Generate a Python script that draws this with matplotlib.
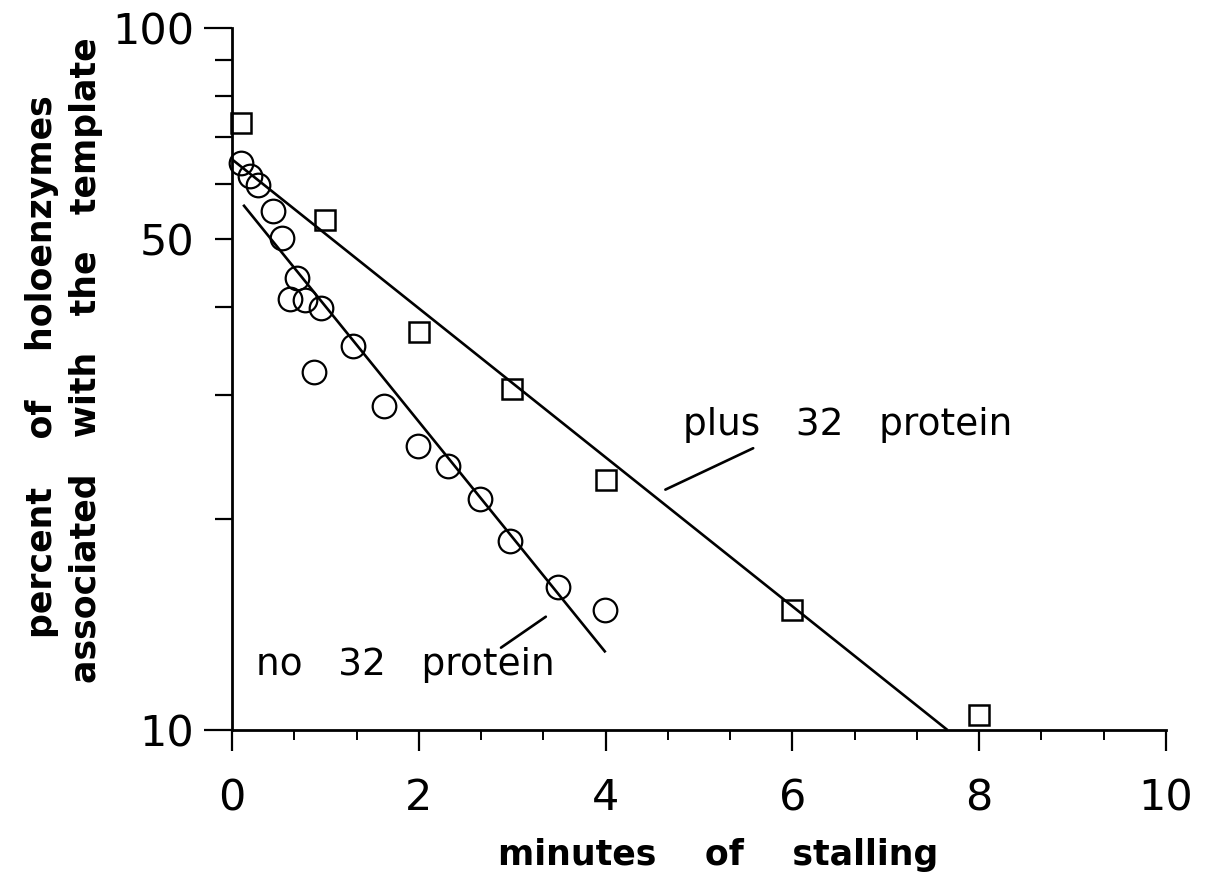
import matplotlib.pyplot as plt
from matplotlib.ticker import FixedLocator, FixedFormatter

# percent of holoenzymes still on the template vs. minutes of stalling
plus_x = [0.1, 1, 2, 3, 4, 6, 8]
plus_y = [73.2, 53.3, 36.9, 30.6, 22.7, 14.8, 10.5]

no_x = [0.10, 0.19, 0.28, 0.44, 0.53, 0.70, 0.62, 0.78, 0.95, 1.30, 0.88,
        1.63, 1.99, 2.31, 2.65, 2.98, 3.49, 3.99]
no_y = [64.2, 61.5, 59.7, 54.9, 50.2, 44.0, 41.1, 41.0, 39.9, 35.2, 32.4,
        28.9, 25.4, 23.8, 21.3, 18.6, 16.0, 14.8]

# hand-fitted lines (end points)
plus_fit_x = [0.0, 7.66]
plus_fit_y = [65.0, 10.0]
no_fit_x = [0.12, 4.0]
no_fit_y = [56.0, 12.9]

fig = plt.figure(figsize=(12.08, 8.76), dpi=100)
ax = fig.add_axes([232 / 1208, 146 / 876, 934 / 1208, 702 / 876])

ax.plot(plus_fit_x, plus_fit_y, color='black', lw=1.9, solid_capstyle='butt')
ax.plot(no_fit_x, no_fit_y, color='black', lw=1.9, solid_capstyle='butt')
ax.plot(plus_x, plus_y, 's', ms=15, mfc='none', mec='black', mew=1.8, clip_on=False)
ax.plot(no_x, no_y, 'o', ms=17, mfc='none', mec='black', mew=1.6, clip_on=False)

ax.set_yscale('log')
ax.set_xlim(0, 10)
ax.set_ylim(10, 100)

for s in ['top', 'right']:
    ax.spines[s].set_visible(False)
for s in ['left', 'bottom']:
    ax.spines[s].set_linewidth(2.0)

ax.xaxis.set_major_locator(FixedLocator([0, 2, 4, 6, 8, 10]))
ax.xaxis.set_minor_locator(FixedLocator([i * 2 / 3 for i in range(16)]))
ax.xaxis.set_major_formatter(FixedFormatter(['0', '2', '4', '6', '8', '10']))

ax.yaxis.set_major_locator(FixedLocator([10, 100]))
ax.yaxis.set_minor_locator(FixedLocator([20, 30, 40, 50, 60, 70, 80, 90]))
ax.yaxis.set_major_formatter(FixedFormatter(['10', '100']))
ax.yaxis.set_minor_formatter(FixedFormatter(['', '', '', '50', '', '', '', '']))

for lab in ax.get_xticklabels() + ax.get_yticklabels(which='both'):
    lab.set_fontfamily('DejaVu Sans')
    lab.set_fontsize(31)

ax.tick_params(axis='x', which='major', direction='out', length=15, width=1.6, pad=19)
ax.tick_params(axis='x', which='minor', direction='out', length=7, width=1.4)
ax.tick_params(axis='y', which='major', direction='out', length=20, width=1.6, pad=7)
ax.tick_params(axis='y', which='minor', direction='out', length=12, width=1.6, pad=15)

# curve labels with leader lines
ax.text(4.83, 26.3, 'plus   32   protein', family='DejaVu Sans', size=27, va='baseline')
ax.annotate('', xy=(4.64, 22.0), xytext=(5.58, 25.2),
            arrowprops=dict(arrowstyle='-', lw=1.9, color='black', shrinkA=0, shrinkB=0))
ax.text(0.26, 11.97, 'no   32   protein', family='DejaVu Sans', size=27, va='baseline')
ax.annotate('', xy=(2.88, 13.1), xytext=(3.36, 14.5),
            arrowprops=dict(arrowstyle='-', lw=1.9, color='black', shrinkA=0, shrinkB=0))

fig.text(718 / 1208, 1 - 855 / 876, 'minutes    of    stalling', family='DejaVu Sans',
         weight='bold', size=25, ha='center', va='center')
fig.text(42 / 1208, 1 - 367 / 876, 'percent    of    holoenzymes',
         family='DejaVu Sans', weight='bold', size=25, rotation=90,
         ha='center', va='center')
fig.text(86 / 1208, 1 - 360 / 876, 'associated   with   the   template',
         family='DejaVu Sans', weight='bold', size=25, rotation=90,
         ha='center', va='center')

fig.savefig('out.png', dpi=100, facecolor='white')
